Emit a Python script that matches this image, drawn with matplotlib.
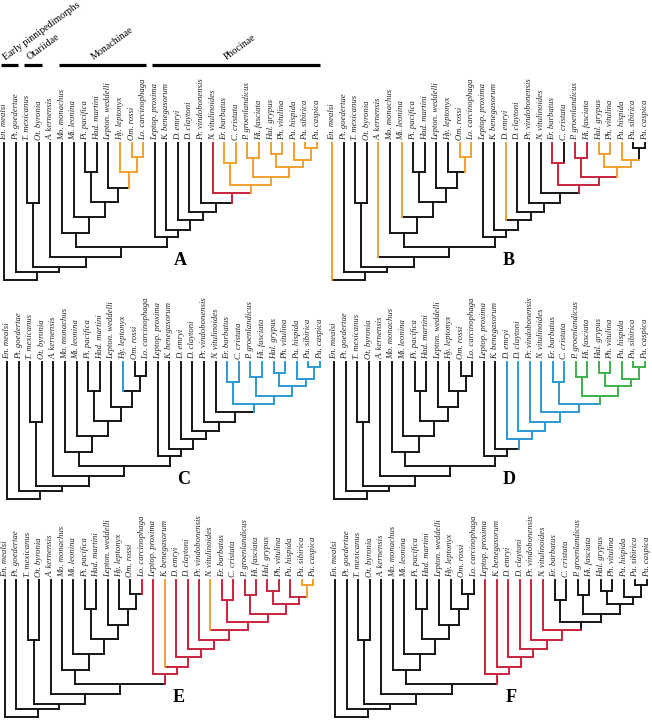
import matplotlib

matplotlib.use("Agg")
import matplotlib.pyplot as plt

# tips, left to right (same order in all six panels)
TAXA = [
    "En. mealsi", "Pt. goedertae", "T. mexicanus", "Ot. byronia", "A. kernensis",
    "Mo. monachus", "Mi. leonina", "Pi. pacifica", "Had. martini", "Lepton. weddelli",
    "Hy. leptonyx", "Om. rossi", "Lo. carcinophaga", "Leptop. proxima", "K. benegasorum",
    "D. emryi", "D. claytoni", "Pr. vindobonensis", "N. vitulinoides", "Er. barbatus",
    "C. cristata", "P. groenlandicus", "Hi. fasciata", "Hal. grypus", "Ph. vitulina",
    "Pu. hispida", "Pu. sibirica", "Pu. caspica",
]

# internal nodes: children and depth below the tips
NODE_IDS = [
    "OmLo", "HyOm", "LepHy", "PiHad", "PiLep", "MiPi", "Monachinae",
    "PuSC", "PuH", "HalPh", "HalPu", "PHi", "PHiHal", "ErC", "ErCP",
    "NErC", "PrN", "DcPr", "DeDc", "KDe", "Phocinae", "Crown", "AMon",
    "TOt", "TOtA", "PtT", "Root",
]
NODE_LEFT = [
    "Om. rossi", "Hy. leptonyx", "Lepton. weddelli", "Pi. pacifica", "PiHad", "Mi. leonina",
    "Mo. monachus", "Pu. sibirica", "Pu. hispida", "Hal. grypus", "HalPh", "P. groenlandicus",
    "PHi", "Er. barbatus", "ErC", "N. vitulinoides", "Pr. vindobonensis", "D. claytoni",
    "D. emryi", "K. benegasorum", "Leptop. proxima", "Monachinae", "A. kernensis",
    "T. mexicanus", "TOt", "Pt. goedertae", "En. mealsi",
]
NODE_RIGHT = [
    "Lo. carcinophaga", "OmLo", "HyOm", "Had. martini", "LepHy", "PiLep", "MiPi",
    "Pu. caspica", "PuSC", "Ph. vitulina", "PuH", "Hi. fasciata", "HalPu", "C. cristata",
    "PHiHal", "ErCP", "NErC", "PrN", "DcPr", "DeDc", "KDe", "Phocinae", "Crown",
    "Ot. byronia", "AMon", "TOtA", "PtT",
]
NODE_DEPTH = [
    14, 29, 45, 29, 59, 74, 90,
    5, 17, 11, 24, 15, 34, 20, 42,
    50, 60, 69, 77, 87, 94, 104, 114,
    60, 124, 129, 137,
]

GROUP_NAMES = ["Early pinnipedimorphs", "Otariidae", "Monachinae", "Phocinae"]
GROUP_FIRST = ["En. mealsi", "T. mexicanus", "Mo. monachus", "Leptop. proxima"]
GROUP_LAST = ["Pt. goedertae", "Ot. byronia", "Lo. carcinophaga", "Pu. caspica"]

PANEL_LETTERS = ["A", "B", "C", "D", "E", "F"]

# branch states per panel (anything not listed is black)
PHOCINI = ["Er. barbatus", "C. cristata", "P. groenlandicus", "Hi. fasciata", "Hal. grypus",
           "Ph. vitulina", "Pu. hispida", "Pu. sibirica", "Pu. caspica",
           "ErC", "PHi", "HalPh", "PuSC", "PuH", "HalPu", "PHiHal", "ErCP"]

COLORS_A = {k: "orange" for k in PHOCINI + ["Hy. leptonyx", "Om. rossi", "Lo. carcinophaga",
                                              "OmLo", "HyOm"]}
COLORS_A.update({"N. vitulinoides": "red", "NErC": "red"})

COLORS_B = {
    "En. mealsi": "orange", "A. kernensis": "orange", "Mi. leonina": "orange",
    "Om. rossi": "orange", "Lo. carcinophaga": "orange", "OmLo": "orange",
    "D. emryi": "orange",
    "Er. barbatus": "red", "ErC": "red", "P. groenlandicus": "red", "Hi. fasciata": "red",
    "PHi": "red", "PHiHal": "red", "ErCP": "red",
    "Hal. grypus": "orange", "Ph. vitulina": "orange", "HalPh": "orange",
    "Pu. hispida": "orange", "PuH": "orange", "HalPu": "orange",
}

COLORS_C = {k: "blue" for k in PHOCINI + ["Hy. leptonyx"]}

COLORS_D = {k: "green" for k in PHOCINI}
COLORS_D.update({k: "blue" for k in ["D. emryi", "D. claytoni", "Pr. vindobonensis",
                                     "N. vitulinoides", "Er. barbatus", "C. cristata",
                                     "ErC", "ErCP", "NErC", "PrN", "DcPr", "DeDc"]})

COLORS_E = {k: "red" for k in PHOCINI + ["Lo. carcinophaga", "Leptop. proxima", "D. emryi",
                                           "D. claytoni", "Pr. vindobonensis", "NErC", "PrN",
                                           "DcPr", "DeDc", "KDe", "Phocinae"]}
COLORS_E.update({"K. benegasorum": "orange", "N. vitulinoides": "orange",
                 "Pu. sibirica": "orange", "Pu. caspica": "orange", "PuSC": "orange"})

COLORS_F = {k: "red" for k in ["Leptop. proxima", "K. benegasorum", "D. emryi", "D. claytoni",
                               "Pr. vindobonensis", "N. vitulinoides", "NErC", "PrN", "DcPr",
                               "DeDc", "KDe", "Phocinae"]}

PANEL_COLORS = [COLORS_A, COLORS_B, COLORS_C, COLORS_D, COLORS_E, COLORS_F]

# ---- layout / style ----
W, H = 652, 724
PALETTE = {"black": "#161616", "orange": "#F2A12E", "red": "#C9243F",
           "blue": "#2C9AD2", "green": "#3DB24B"}
# (first tip x, last tip x, tip top y) in pixels
PANEL_BOX = [(4, 317, 143), (332, 645, 143), (7, 320, 362),
             (334, 645, 362), (5, 313, 580), (335, 647, 580)]
TREE_H = 140
SERIF = ["Liberation Serif", "DejaVu Serif"]


def layout():
    x = {t: float(i) for i, t in enumerate(TAXA)}
    depth = {t: 0.0 for t in TAXA}
    parent = {}
    for nid, l, r, d in zip(NODE_IDS, NODE_LEFT, NODE_RIGHT, NODE_DEPTH):
        x[nid] = (x[l] + x[r]) / 2
        depth[nid] = d
        parent[l] = nid
        parent[r] = nid
    return x, depth, parent


def draw_tree(ax, colors):
    x, depth, parent = layout()
    lw = 1.4
    items = []
    for nid, l, r in zip(NODE_IDS, NODE_LEFT, NODE_RIGHT):
        c = colors.get(nid, "black")
        items.append(([x[l], x[r]], [-depth[nid]] * 2, c))
    for name, p in parent.items():
        c = colors.get(name, "black")
        items.append(([x[name]] * 2, [-depth[name], -depth[p]], c))
    # black first, coloured branches on top
    for xs, ys, c in sorted(items, key=lambda it: it[2] != "black"):
        ax.plot(xs, ys, color=PALETTE[c], lw=lw, solid_capstyle="projecting",
                zorder=2 if c == "black" else 3, clip_on=False)
    for i, t in enumerate(TAXA):
        ax.text(i, 3, t, rotation=90, ha="center", va="bottom", fontsize=6.2,
                family=SERIF, style="italic", color="#222222", clip_on=False)


fig = plt.figure(figsize=(W / 100, H / 100), dpi=100)
axes = []
for (x0, x1, ytop), letter, colors in zip(PANEL_BOX, PANEL_LETTERS, PANEL_COLORS):
    s = (x1 - x0) / (len(TAXA) - 1)
    left = x0 - 0.5 * s
    width = (x1 - x0) + s
    ax = fig.add_axes([left / W, 1 - (ytop + TREE_H) / H, width / W, TREE_H / H])
    ax.set_xlim(-0.5, len(TAXA) - 0.5)
    ax.set_ylim(-TREE_H, 0)
    ax.axis("off")
    draw_tree(ax, colors)
    ax.text(15.2, -118, letter, fontsize=13, weight="bold", family=SERIF,
            ha="center", va="center")
    axes.append(ax)

# clade bars over panel A
ax = axes[0]
for name, first, last in zip(GROUP_NAMES, GROUP_FIRST, GROUP_LAST):
    i0, i1 = TAXA.index(first), TAXA.index(last)
    ax.plot([i0 - 0.25, i1 + 0.25], [78, 78], color="black", lw=2.3,
            solid_capstyle="butt", clip_on=False)
    mid = (i0 + i1) / 2
    ax.text(mid - 0.7 if i1 - i0 > 3 else i0 + 0.3, 81, name, rotation=36,
            rotation_mode="anchor", ha="left", va="bottom", fontsize=7.2,
            family=SERIF, clip_on=False)

fig.savefig("out.png", dpi=100)
